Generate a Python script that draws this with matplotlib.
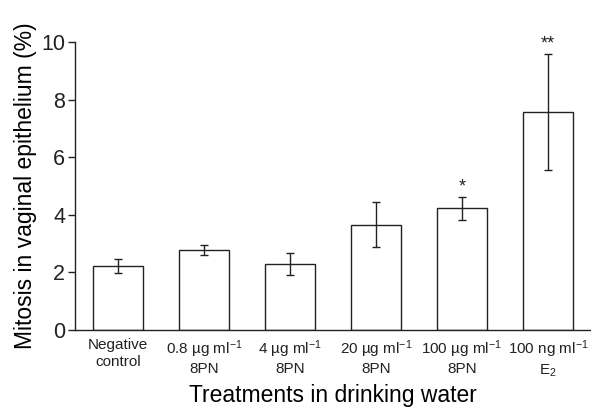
import numpy as np
import matplotlib.pyplot as plt

plt.rcParams['font.family'] = ['Liberation Sans', 'DejaVu Sans']
plt.rcParams['mathtext.default'] = 'regular'
plt.rcParams['text.color'] = '#222222'
plt.rcParams['xtick.color'] = '#222222'
plt.rcParams['ytick.color'] = '#222222'

labels = ["Negative\ncontrol",
          "0.8 µg ml$^{-1}$\n8PN",
          "4 µg ml$^{-1}$\n8PN",
          "20 µg ml$^{-1}$\n8PN",
          "100 µg ml$^{-1}$\n8PN",
          "100 ng ml$^{-1}$\nE$_2$"]
means = [2.23, 2.77, 2.29, 3.66, 4.23, 7.58]
errors = [0.24, 0.17, 0.37, 0.78, 0.40, 2.02]
stars = ["", "", "", "", "*", "**"]

fig = plt.figure(figsize=(5.91, 4.08), dpi=100)
ax = fig.add_axes([0.127, 0.191, 0.873, 0.706])

x = np.arange(len(means))
ax.bar(x, means, width=0.59, color="white", edgecolor="#222222", linewidth=1.0)
ax.errorbar(x, means, yerr=errors, fmt="none", ecolor="#222222",
            elinewidth=1.0, capsize=3.2, capthick=1.0)
for xi, m, e, s in zip(x, means, errors, stars):
    if s:
        ax.text(xi, m + e + 0.05, s, ha="center", va="bottom", fontsize=13)

ax.set_xlim(-0.5, 5.5)
ax.set_ylim(0, 10)
ax.set_yticks([0, 2, 4, 6, 8, 10])
ax.set_xticks(x)
ax.set_xticklabels(labels, fontsize=11, linespacing=1.2)
ax.tick_params(axis="x", length=0, pad=6)
ax.tick_params(axis="y", labelsize=15.5, length=5, width=1.0, direction="out", pad=2)
for s in ["top", "right"]:
    ax.spines[s].set_visible(False)
for s in ["left", "bottom"]:
    ax.spines[s].set_linewidth(1.0)
    ax.spines[s].set_color("#222222")

ax.set_ylabel("Mitosis in vaginal epithelium (%)", fontsize=16.5, labelpad=3)
ax.set_xlabel("Treatments in drinking water", fontsize=16.5, labelpad=4)

fig.savefig("out.png", dpi=100)
